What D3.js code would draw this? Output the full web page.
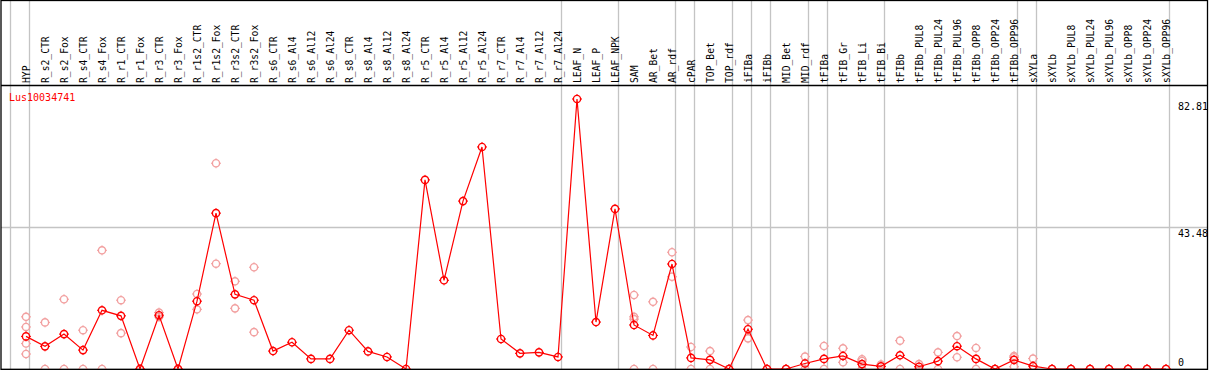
<!DOCTYPE html>
<html>
<head>
<meta charset="utf-8">
<script src="https://cdn.jsdelivr.net/npm/d3@7"></script>
<style>
  body { margin: 0; background: #fff; }
  text { font-family: "DejaVu Sans Mono", monospace; }
</style>
</head>
<body>
<div id="chart"></div>
<script>
var width = 1209, height = 370;

var title = "Lus10034741";

var samples = ["HYP", "R_s2_CTR", "R_s2_Fox", "R_s4_CTR", "R_s4_Fox", "R_r1_CTR", "R_r1_Fox",
  "R_r3_CTR", "R_r3_Fox", "R_r1s2_CTR", "R_r1s2_Fox", "R_r3s2_CTR", "R_r3s2_Fox", "R_s6_CTR",
  "R_s6_Al4", "R_s6_Al12", "R_s6_Al24", "R_s8_CTR", "R_s8_Al4", "R_s8_Al12", "R_s8_Al24",
  "R_r5_CTR", "R_r5_Al4", "R_r5_Al12", "R_r5_Al24", "R_r7_CTR", "R_r7_Al4", "R_r7_Al12",
  "R_r7_Al24", "LEAF_N", "LEAF_P", "LEAF_NPK", "SAM", "AR_Bet", "AR_rdf", "cPAR", "TOP_Bet",
  "TOP_rdf", "iFIBa", "iFIBb", "MID_Bet", "MID_rdf", "tFIBa", "tFIB_Gr", "tFIB_Li", "tFIB_Bi",
  "tFIBb", "tFIBb_PUL8", "tFIBb_PUL24", "tFIBb_PUL96", "tFIBb_OPP8", "tFIBb_OPP24",
  "tFIBb_OPP96", "sXYLa", "sXYLb", "sXYLb_PUL8", "sXYLb_PUL24", "sXYLb_PUL96", "sXYLb_OPP8",
  "sXYLb_OPP24", "sXYLb_OPP96"];

// mean expression per sample
var means = [10.0, 6.95, 10.7, 5.8, 18.0, 16.3, 0, 16.5, 0, 20.8, 47.8, 22.9, 21.1, 5.5,
  8.2, 3.1, 3.1, 11.9, 5.4, 3.7, 0, 58.0, 27.2, 51.5, 68.1, 9.2, 4.8, 5.1,
  3.7, 82.81, 14.4, 49.1, 13.5, 10.3, 32.2, 3.4, 2.8,
  0, 12.2, 0, 0, 1.7, 3.1, 4.0, 1.5, 0.8,
  4.2, 0.7, 2.4, 7.0, 3.1, 0,
  2.8, 0.9, 0, 0, 0, 0, 0,
  0, 0];

// individual replicates (empty = not shown)
var replicates = [[16.0, 12.9, 7.8, 4.6], [14.3, 0], [21.4, 0], [11.9, 0], [36.4, 0], [21.1, 11.0], [0, 0],
  [17.3, 16.0], [0, 0], [23.0, 18.3], [63.1, 32.3], [26.9, 18.6], [31.2, 11.3], [],
  [], [], [], [], [], [], [],
  [], [], [], [], [], [], [],
  [], [], [], [], [22.7, 16.0, 15.3, 0], [20.6, 0], [35.8, 28.3], [6.75, 0], [5.5, 0],
  [0, 0], [15.0, 9.4], [0, 0], [0, 0], [3.8, 0], [7.05, 0], [6.35, 2.05], [3.0, 2.45, 0], [1.4, 0],
  [8.7, 0], [1.5, 0], [5.1, 0], [10.1, 3.6], [6.45, 0], [0, 0],
  [4.0, 3.6, 0.7], [3.2, 0, 0], [0, 0], [0, 0], [0, 0], [0, 0], [0, 0],
  [0, 0], [0, 0]];

// first sample of each group (gray separators)
var groupStarts = ["HYP", "R_s2_CTR", "LEAF_N", "SAM", "cPAR", "TOP_Bet", "iFIBa", "iFIBb",
  "MID_Bet", "tFIBa", "tFIB_Gr", "tFIBb", "sXYLa", "sXYLb"];

var yTicks = [0, 43.48, 82.81];
var gridTicks = [43.48];

var svg = d3.select("#chart").append("svg")
    .attr("width", width)
    .attr("height", height)
    .style("display", "block");

var headerY = 85, baseY = 369;

var x = d3.scaleBand()
    .domain(samples)
    .range([11, 11 + 19 * samples.length]);

var y = d3.scaleLinear()
    .domain([0, 82.81])
    .range([baseY, 99]);

var gray = "#c4c4c4";

// vertical group separators
svg.append("g").selectAll("line")
  .data(groupStarts)
  .enter().append("line")
    .attr("x1", function(d) { return x(d) - 0.5; })
    .attr("x2", function(d) { return x(d) - 0.5; })
    .attr("y1", 0).attr("y2", baseY)
    .attr("stroke", gray).attr("stroke-width", 1.3);

svg.append("line")
    .attr("x1", x.range()[1] - 0.5).attr("x2", x.range()[1] - 0.5)
    .attr("y1", 0).attr("y2", baseY)
    .attr("stroke", gray).attr("stroke-width", 1.3);

// horizontal gridline
svg.append("g").selectAll("line")
  .data(gridTicks)
  .enter().append("line")
    .attr("x1", 1).attr("x2", 1208)
    .attr("y1", function(d) { return Math.round(y(d)) + 0.5; })
    .attr("y2", function(d) { return Math.round(y(d)) + 0.5; })
    .attr("stroke", gray).attr("stroke-width", 1.3);

// frame
svg.append("rect")
    .attr("x", 1).attr("y", 0.5)
    .attr("width", 1206.5).attr("height", baseY)
    .attr("fill", "none").attr("stroke", "#000").attr("stroke-width", 1.3);

svg.append("line")
    .attr("x1", 1).attr("x2", 1208)
    .attr("y1", headerY + 0.5).attr("y2", headerY + 0.5)
    .attr("stroke", "#000").attr("stroke-width", 1.3);

// sample labels
svg.append("g").selectAll("text")
  .data(samples)
  .enter().append("text")
    .attr("transform", function(d) {
      return "translate(" + (x(d) + 19) + "," + (headerY - 2) + ") rotate(-90) scale(0.88,1)";
    })
    .attr("font-size", "11px")
    .attr("fill", "#000")
    .text(function(d) { return d; });

// title
svg.append("text")
    .attr("x", 9).attr("y", 101)
    .attr("font-size", "10px")
    .attr("fill", "#ff0000")
    .text(title);

// right value labels
svg.append("g").selectAll("text")
  .data(yTicks)
  .enter().append("text")
    .attr("x", 1178)
    .attr("y", function(d) {
      if (d === 0) return y(d) - 3;
      if (d === 82.81) return y(d) + 11;
      return y(d) + 9.5;
    })
    .attr("font-size", "10px")
    .attr("fill", "#000")
    .text(function(d) { return d; });

function marker(g, color) {
  g.append("circle")
    .attr("r", 3.6)
    .attr("fill", "none")
    .attr("stroke", color)
    .attr("stroke-width", 1.4);
  [[0, -1], [0, 1], [-1, 0], [1, 0]].forEach(function(v) {
    g.append("line")
      .attr("x1", v[0] * 3.6).attr("y1", v[1] * 3.6)
      .attr("x2", v[0] * 5).attr("y2", v[1] * 5)
      .attr("stroke", color).attr("stroke-width", 1);
  });
}

var px = function(name) { return x(name) + 15; };

// replicate points
var reps = [];
samples.forEach(function(s, i) {
  replicates[i].forEach(function(v) { reps.push({ s: s, v: v }); });
});

svg.append("g").selectAll("g")
  .data(reps)
  .enter().append("g")
    .attr("transform", function(d) { return "translate(" + px(d.s) + "," + y(d.v) + ")"; })
    .each(function() { marker(d3.select(this), "#f2a0a0"); });

// mean line
var pts = samples.map(function(s, i) { return [px(s), y(means[i])]; });

svg.append("path")
    .datum(pts)
    .attr("d", d3.line())
    .attr("fill", "none")
    .attr("stroke", "#ff0000")
    .attr("stroke-width", 1.2);

svg.append("g").selectAll("g")
  .data(pts)
  .enter().append("g")
    .attr("transform", function(d) { return "translate(" + d[0] + "," + d[1] + ")"; })
    .each(function() { marker(d3.select(this), "#ff0000"); });

// redraw baseline over markers
svg.append("line")
    .attr("x1", 1).attr("x2", 1208)
    .attr("y1", baseY + 0.5).attr("y2", baseY + 0.5)
    .attr("stroke", "#000").attr("stroke-width", 1.5);
</script>
</body>
</html>
